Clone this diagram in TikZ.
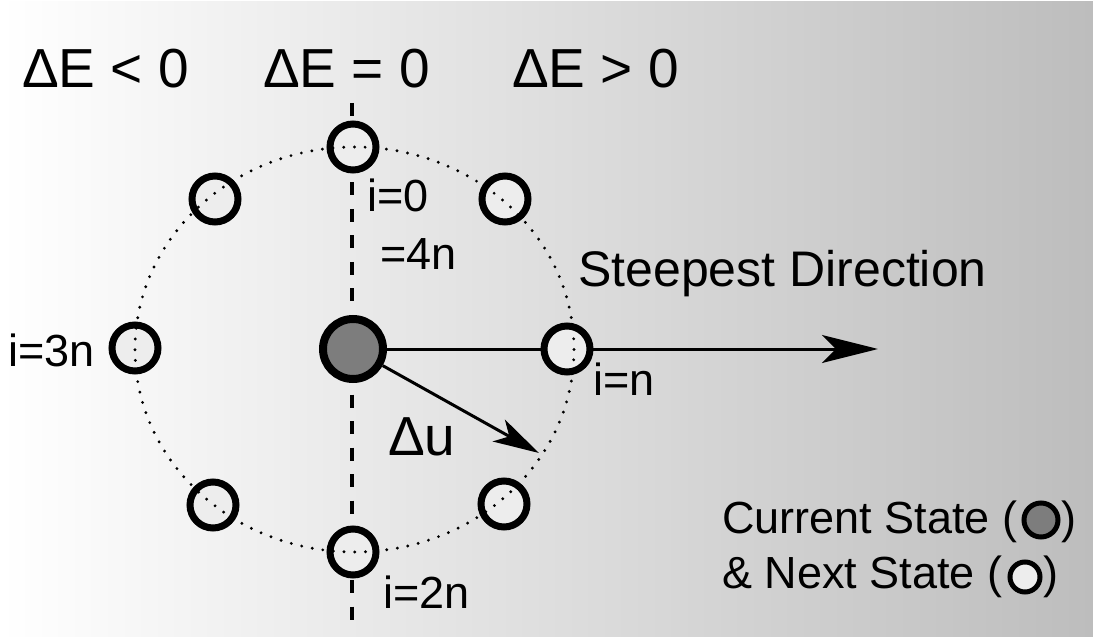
\documentclass[tikz,border=0pt]{standalone}
\usepackage{fontspec}
\setmainfont{Liberation Sans}
\usetikzlibrary{arrows.meta}
\definecolor{stfill}{HTML}{EDEDED}
\definecolor{curfill}{HTML}{7D7D7D}
\definecolor{bgright}{HTML}{BDBDBD}
\tikzset{
  lbl/.style={inner sep=0pt, anchor=base west},
  big/.style={lbl, font=\fontsize{55}{60}\selectfont},
  mid/.style={lbl, font=\fontsize{50}{56}\selectfont},
  small/.style={lbl, font=\fontsize{45}{50}\selectfont},
  legtext/.style={lbl, font=\fontsize{45}{50}\selectfont},
  nextstate/.style={circle, inner sep=0pt, minimum size=46pt, fill=stfill},
  ring/.style={line width=7pt},
  bigstate/.style={circle, inner sep=0pt, minimum size=60pt, fill=curfill, draw=black, line width=8pt},
  legcur/.style={circle, inner sep=0pt, minimum size=34pt, fill=curfill, draw=black, line width=5pt},
  legnext/.style={circle, inner sep=0pt, minimum size=30pt, fill=stfill, draw=black, line width=5pt},
  axisline/.style={line width=4pt, dash pattern=on 13pt off 13.5pt},
  dotline/.style={line width=3.2pt, line cap=round, dash pattern=on 0pt off 10.7pt},
  mainarrow/.style={line width=3pt, -{Stealth[length=56pt, width=28pt, inset=14pt]}},
  duarrow/.style={line width=3pt, -{Stealth[length=46pt, width=25pt, inset=12pt]}},
}
\begin{document}
\begin{tikzpicture}[x=1pt, y=-1pt]
\useasboundingbox (0,0) rectangle (1093,639);
% background
\fill[white] (0,0) rectangle (1093,639);
\shade[left color=white, right color=bgright] (0,2) rectangle (1093,636);

% sign regions of the energy change
\node[big] (neg) at (22,88) {ΔE < 0};
\node[big] (zero) at (263,88) {ΔE = 0};
\node[big] (pos) at (512,88) {ΔE > 0};

% zero-change axis
\coordinate (vtop) at (352,103);
\coordinate (vbot) at (352,632);
\draw[axisline] (vtop) -- (vbot);

% current state and directions
\node[bigstate] (cur) at (353,349) {};
\coordinate (far) at (878,349);
\coordinate (du) at (539,453);
\draw[mainarrow] (cur) -- (far);
\draw[duarrow] (cur) -- (du);

% candidate next states
\node[nextstate] (s0) at (353,147) {};
\node[nextstate] (s1) at (505,199) {};
\node[nextstate] (s2) at (567,349) {};
\node[nextstate] (s3) at (504,504) {};
\node[nextstate] (s4) at (353,552) {};
\node[nextstate] (s5) at (213,505) {};
\node[nextstate] (s6) at (135,348) {};
\node[nextstate] (s7) at (215,199) {};

% neighbourhood of reachable states
\draw[dotline] (354.5,349.5) ellipse [x radius=219.5pt, y radius=202.5pt];

\foreach \k in {0,...,7}
  \draw[ring] (s\k.center) circle [radius=23pt];

% labels
\node[small] (l0) at (367,212) {i=0};
\node[small] (l0b) at (380,270) {=4n};
\node[mid] (steep) at (578,287) {Steepest Direction};
\node[small] (l3) at (8,366) {i=3n};
\node[small] (l1) at (593,395) {i=n};
\node[small] (l2) at (383,608) {i=2n};
\node[big] (dul) at (388,455) {Δu};

% legend
\node[legtext] (curlbl) at (722,533) {Current State (};
\node[legcur] (curmark) at (1041,520) {};
\node[legtext] (curcl) at (1061,533) {)};
\node[legtext] (nxtlbl) at (722,588) {\& Next State (};
\node[legnext] (nxtmark) at (1025,577) {};
\node[legtext] (nxtcl) at (1043,588) {)};
\end{tikzpicture}
\end{document}
